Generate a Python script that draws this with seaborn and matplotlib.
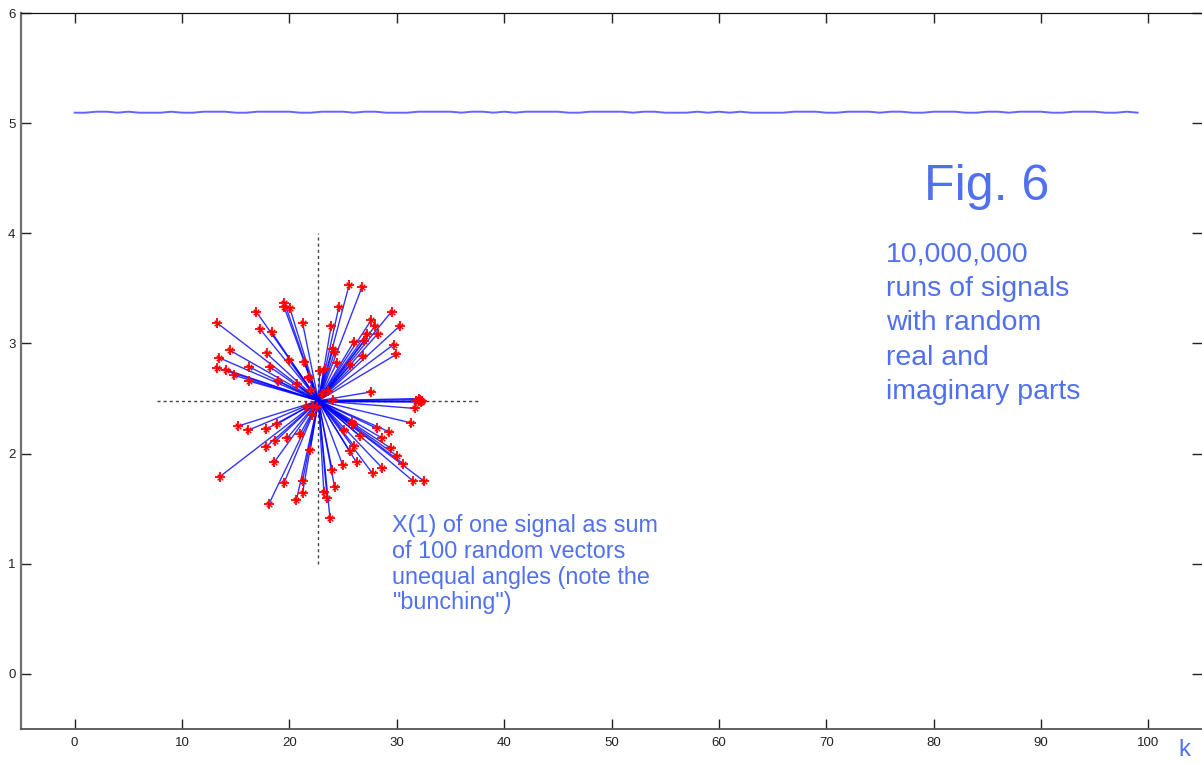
import numpy as np
import pandas as pd
import matplotlib
matplotlib.use("Agg")
import matplotlib.pyplot as plt
import seaborn as sns

# ---------------- data ----------------
k_values = list(range(100))
level = [5.095, 5.095, 5.104, 5.104, 5.095, 5.104, 5.095, 5.095, 5.095, 5.104,
         5.095, 5.095, 5.104, 5.104, 5.104, 5.095, 5.095, 5.104, 5.104, 5.104,
         5.104, 5.095, 5.095, 5.104, 5.104, 5.104, 5.095, 5.104, 5.104, 5.095,
         5.095, 5.095, 5.104, 5.104, 5.104, 5.104, 5.095, 5.104, 5.104, 5.095,
         5.104, 5.095, 5.104, 5.104, 5.104, 5.104, 5.095, 5.095, 5.104, 5.104,
         5.104, 5.104, 5.095, 5.104, 5.104, 5.095, 5.095, 5.095, 5.104, 5.095,
         5.104, 5.095, 5.104, 5.095, 5.095, 5.095, 5.095, 5.104, 5.104, 5.104,
         5.095, 5.095, 5.104, 5.104, 5.104, 5.095, 5.104, 5.104, 5.095, 5.095,
         5.104, 5.104, 5.104, 5.095, 5.095, 5.104, 5.104, 5.095, 5.104, 5.104,
         5.104, 5.095, 5.095, 5.104, 5.104, 5.104, 5.095, 5.095, 5.104, 5.095]

center_x = 22.7
center_y = 2.48
tip_x = [13.21, 16.90, 19.54, 19.51, 20.04, 17.27, 18.36, 21.22, 14.42, 17.87,
         19.94, 21.37, 13.45, 13.21, 14.14, 16.19, 18.15, 14.88, 16.19, 18.95,
         20.72, 21.84, 21.99, 22.83, 23.89, 24.60, 25.56, 26.75, 24.07, 24.20,
         24.39, 25.97, 26.96, 27.19, 26.87, 25.63, 23.64, 23.30, 29.52, 30.29,
         27.61, 27.99, 28.24, 29.70, 29.94, 27.61, 32.03, 21.78, 32.09, 31.69,
         31.29, 25.79, 25.94, 25.07, 28.12, 29.24, 28.64, 26.56, 26.03, 25.63,
         29.42, 30.01, 30.60, 26.25, 24.95, 23.98, 28.64, 27.74, 31.53, 32.53,
         21.93, 24.20, 23.21, 23.51, 23.77, 21.22, 21.22, 15.22, 16.10, 17.80,
         18.89, 18.67, 19.79, 21.00, 17.80, 18.57, 13.51, 19.48, 20.66, 18.08,
         21.59, 22.06, 22.53, 24.07, 23.02, 22.18, 32.15, 32.25, 31.78, 32.34]
tip_y = [3.19, 3.29, 3.37, 3.33, 3.32, 3.13, 3.10, 3.19, 2.94, 2.91,
         2.85, 2.83, 2.87, 2.78, 2.76, 2.79, 2.79, 2.71, 2.66, 2.66,
         2.63, 2.70, 2.58, 2.75, 3.16, 3.33, 3.53, 3.51, 2.95, 2.92,
         2.82, 3.01, 3.02, 3.09, 2.89, 2.80, 2.57, 2.77, 3.29, 3.16,
         3.21, 3.16, 3.09, 2.99, 2.90, 2.56, 2.50, 2.69, 2.48, 2.41,
         2.28, 2.29, 2.26, 2.21, 2.23, 2.20, 2.14, 2.16, 2.07, 2.02,
         2.05, 1.98, 1.91, 1.92, 1.90, 1.85, 1.87, 1.82, 1.75, 1.75,
         2.03, 1.70, 1.65, 1.60, 1.42, 1.75, 1.64, 2.25, 2.21, 2.22,
         2.27, 2.11, 2.14, 2.18, 2.06, 1.92, 1.79, 1.73, 1.58, 1.54,
         2.42, 2.35, 2.42, 2.49, 2.54, 2.43, 2.49, 2.47, 2.48, 2.48]

x_ticks = [0, 10, 20, 30, 40, 50, 60, 70, 80, 90, 100]
y_ticks = [0, 1, 2, 3, 4, 5, 6]

fig_title = "Fig. 6"
right_note = "10,000,000\nruns of signals\nwith random\nreal and\nimaginary parts"
bottom_note = "X(1) of one signal as sum\nof 100 random vectors\nunequal angles (note the\n\"bunching\")"
x_label = "k"

# ---------------- figure ----------------
W, H = 1202, 764
fig = plt.figure(figsize=(W / 100, H / 100), dpi=100)
ax = fig.add_axes([21 / W, (H - 729) / H, 1 - 21 / W, (729 - 13) / H])
ax.set_facecolor("white")

text_blue = "#5070f0"
font = "Liberation Sans"

# top line
top_df = pd.DataFrame({"k": k_values, "v": level})
sns.lineplot(data=top_df, x="k", y="v", ax=ax, color="#6464ff", lw=1.4,
             estimator=None, sort=False, legend=False)

# crosshair
ax.plot([center_x, center_x], [1.0, 4.0], color="#444444", lw=1.0,
        dashes=(2.2, 2.2))
ax.plot([center_x - 15, center_x + 15], [center_y, center_y], color="#444444",
        lw=1.0, dashes=(2.2, 2.2))

# vectors as long-form segments
rows = []
for i, (tx, ty) in enumerate(zip(tip_x, tip_y)):
    rows.append({"vec": i, "x": center_x, "y": center_y})
    rows.append({"vec": i, "x": tx, "y": ty})
vec_df = pd.DataFrame(rows)
sns.lineplot(data=vec_df, x="x", y="y", units="vec", estimator=None, sort=False,
             ax=ax, color="#0000ff", lw=1.0, alpha=0.8, legend=False)

tips_df = pd.DataFrame({"x": tip_x, "y": tip_y})
sns.scatterplot(data=tips_df, x="x", y="y", ax=ax, marker="+", s=60,
                color="red", linewidth=1.3, zorder=5)
sns.scatterplot(data=tips_df, x="x", y="y", ax=ax, marker="x", s=16,
                color="red", linewidth=1.0, zorder=5)

# axes
ax.set_xlim(-5, 105)
ax.set_ylim(-0.5, 6)
ax.set_xticks(x_ticks)
ax.set_yticks(y_ticks)
ax.set_xlabel("")
ax.set_ylabel("")
ax.tick_params(direction="in", length=7.5, width=1.0, top=True, right=True,
               labelsize=9.5, colors="#222222", pad=4)
ax.tick_params(axis="x", pad=6)
for lab in ax.get_xticklabels() + ax.get_yticklabels():
    lab.set_fontfamily(font)
ax.spines["left"].set_color("#707070")
ax.spines["left"].set_linewidth(1.6)
ax.spines["bottom"].set_color("#555555")
ax.spines["bottom"].set_linewidth(1.3)
ax.spines["top"].set_color("#111111")
ax.spines["top"].set_linewidth(0.9)
ax.spines["right"].set_visible(False)

# annotations
ax.text(84.9, 4.42, fig_title, color=text_blue, fontsize=36, family=font,
        ha="center", va="center")
ax.text(75.6, 3.924, right_note, color=text_blue, fontsize=20.5, family=font,
        ha="left", va="top", linespacing=1.42)
ax.text(29.6, 1.45, bottom_note, color=text_blue, fontsize=16.8, family=font,
        ha="left", va="top", linespacing=1.15)
fig.text(1184 / W, 1 - 750 / H, x_label, color=text_blue, fontsize=17,
         family=font, ha="center", va="center")

fig.savefig("out.png", dpi=100, facecolor="white")
